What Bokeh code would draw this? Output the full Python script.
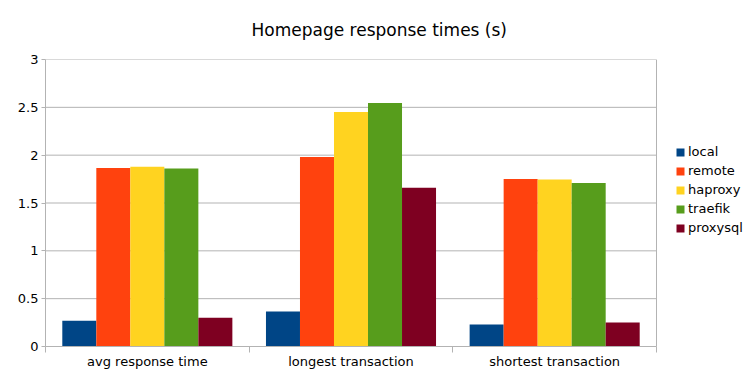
import numpy as np
from bokeh.plotting import figure
from bokeh.models import FixedTicker, Legend, LegendItem, Title, Range1d
from bokeh.embed import file_html
from bokeh.resources import INLINE

categories = ["avg response time", "longest transaction", "shortest transaction"]
series_names = ["local", "remote", "haproxy", "traefik", "proxysql"]
local = [0.27, 0.366, 0.23]
remote = [1.865, 1.98, 1.75]
haproxy = [1.88, 2.45, 1.745]
traefik = [1.86, 2.545, 1.71]
proxysql = [0.30, 1.66, 0.25]
series_values = [local, remote, haproxy, traefik, proxysql]
colors = ["#004586", "#ff420e", "#ffd320", "#579d1c", "#7e0021"]
y_ticks = [0, 0.5, 1, 1.5, 2, 2.5, 3]
y_tick_labels = ["0", "0.5", "1", "1.5", "2", "2.5", "3"]

FONT = "DejaVu Sans"
GRAY = "#b3b3b3"

W, H = 756, 378
LEFT, PLOT_W = 45, 611          # pixel layout of the category area
n = len(categories)
x_end = n * (W - LEFT) / PLOT_W  # frame extends right to make room for the legend

p = figure(width=W, height=H, output_backend="svg", toolbar_location=None,
           x_range=Range1d(0, x_end), y_range=Range1d(0, 3),
           min_border_left=LEFT, min_border_right=0, min_border_bottom=32, min_border_top=59)
p.title = None
p.add_layout(Title(text="Homepage response times (s)", align="left", offset=206,
                   vertical_align="top",
                   text_font=FONT, text_font_size="17px", text_font_style="normal",
                   text_color="#000000", standoff=36), "above")

# grid lines and right border limited to the category area
p.segment(x0=[0] * len(y_ticks), x1=[n] * len(y_ticks), y0=y_ticks, y1=y_ticks,
          line_color=GRAY, line_width=1)
p.segment(x0=[n], x1=[n], y0=[y_ticks[0]], y1=[y_ticks[-1]], line_color=GRAY, line_width=1)

bar_w = 0.835 / len(series_names)
centers = np.arange(n) + 0.5
items = []
for k, (name, vals, c) in enumerate(zip(series_names, series_values, colors)):
    xs = centers + (k - (len(series_names) - 1) / 2) * bar_w
    r = p.vbar(x=xs, top=vals, width=bar_w, bottom=0, fill_color=c, line_color=None)
    items.append(LegendItem(label=name, renderers=[r]))

legend = Legend(items=items, location=(630, 111), padding=0, margin=0, spacing=4,
                glyph_width=10, glyph_height=10, label_standoff=3,
                label_text_font=FONT, label_text_font_size="13px", label_text_color="#000000",
                border_line_color=None, background_fill_alpha=0)
p.add_layout(legend, "center")

# x axis
p.xaxis.bounds = (0, n)
p.xaxis.ticker = FixedTicker(ticks=list(centers), minor_ticks=list(range(n + 1)))
p.xaxis.major_label_overrides = {float(c): lab for c, lab in zip(centers, categories)}
p.xaxis.major_tick_line_color = None
p.xaxis.major_tick_out = 0
p.xaxis.major_tick_in = 0
p.xaxis.minor_tick_line_color = GRAY
p.xaxis.minor_tick_out = 6
p.xaxis.minor_tick_in = 0
p.xaxis.major_label_standoff = 1
p.xaxis.axis_line_color = GRAY
p.xaxis.major_label_text_font = FONT
p.xaxis.major_label_text_font_size = "13px"
p.xaxis.major_label_text_color = "#000000"

# y axis
p.yaxis.ticker = FixedTicker(ticks=y_ticks, minor_ticks=[])
p.yaxis.major_label_overrides = {float(t): lab for t, lab in zip(y_ticks, y_tick_labels)}
p.yaxis.major_tick_line_color = GRAY
p.yaxis.major_tick_out = 4
p.yaxis.major_tick_in = 0
p.yaxis.minor_tick_line_color = None
p.yaxis.axis_line_color = GRAY
p.yaxis.major_label_standoff = 3
p.yaxis.major_label_text_font = FONT
p.yaxis.major_label_text_font_size = "13px"
p.yaxis.major_label_text_color = "#000000"

p.xgrid.grid_line_color = None
p.ygrid.grid_line_color = None
p.outline_line_color = None
p.background_fill_color = "white"
p.border_fill_color = "white"

open("out.html", "w").write(file_html(p, INLINE))
